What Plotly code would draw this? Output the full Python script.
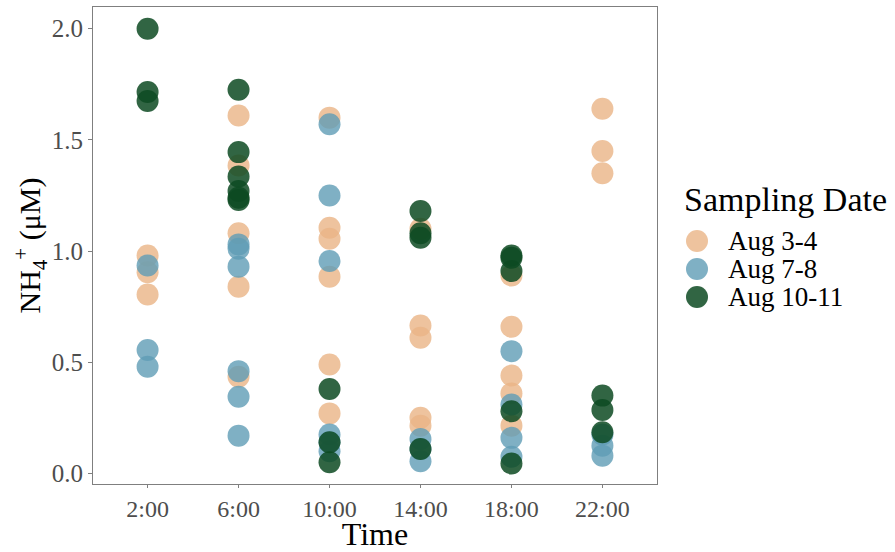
import plotly.graph_objects as go

times = ["2:00", "6:00", "10:00", "14:00", "18:00", "22:00"]

# Aug 3-4
aug34_time = ["2:00", "2:00", "2:00",
              "6:00", "6:00", "6:00", "6:00", "6:00",
              "10:00", "10:00", "10:00", "10:00", "10:00", "10:00",
              "14:00", "14:00", "14:00", "14:00", "14:00",
              "18:00", "18:00", "18:00", "18:00", "18:00",
              "22:00", "22:00", "22:00"]
aug34_val = [0.98, 0.905, 0.805,
             1.61, 1.385, 1.08, 0.84, 0.435,
             1.60, 1.105, 1.055, 0.885, 0.49, 0.27,
             1.10, 0.665, 0.61, 0.25, 0.215,
             0.89, 0.66, 0.44, 0.36, 0.215,
             1.64, 1.45, 1.35]

# Aug 7-8
aug78_time = ["2:00", "2:00", "2:00",
              "6:00", "6:00", "6:00", "6:00", "6:00", "6:00",
              "10:00", "10:00", "10:00", "10:00", "10:00", "10:00",
              "14:00", "14:00", "14:00",
              "18:00", "18:00", "18:00", "18:00",
              "22:00", "22:00", "22:00"]
aug78_val = [0.935, 0.555, 0.48,
             1.03, 1.01, 0.93, 0.46, 0.345, 0.17,
             1.57, 1.25, 0.955, 0.175, 0.14, 0.10,
             0.155, 0.11, 0.055,
             0.55, 0.31, 0.16, 0.075,
             0.175, 0.125, 0.08]

# Aug 10-11
aug1011_time = ["2:00", "2:00", "2:00",
                "6:00", "6:00", "6:00", "6:00", "6:00", "6:00",
                "10:00", "10:00", "10:00",
                "14:00", "14:00", "14:00", "14:00",
                "18:00", "18:00", "18:00", "18:00", "18:00",
                "22:00", "22:00", "22:00"]
aug1011_val = [2.00, 1.715, 1.675,
               1.725, 1.445, 1.335, 1.27, 1.24, 1.23,
               0.38, 0.14, 0.05,
               1.18, 1.08, 1.06, 0.11,
               0.98, 0.97, 0.91, 0.28, 0.045,
               0.35, 0.285, 0.185]

series_names = ["Aug 3-4", "Aug 7-8", "Aug 10-11"]
series_times = [aug34_time, aug78_time, aug1011_time]
series_vals = [aug34_val, aug78_val, aug1011_val]
series_colors = ["#EAB486", "#5F9CB5", "#0D4A22"]
series_opacity = [0.8, 0.8, 0.85]
legend_title = "Sampling Date"

serif = "Liberation Serif, Times New Roman, serif"

fig = go.Figure()
for name, t, v, col, op in zip(series_names, series_times, series_vals,
                               series_colors, series_opacity):
    fig.add_trace(go.Scatter(
        x=t, y=v, mode="markers", name=name, showlegend=False,
        marker=dict(size=22, color=col, opacity=op, line=dict(width=0)),
    ))

# Manual legend (matches ggplot spacing)
W, H = 895, 552
L, R, T, B = 93, 238, 7, 68
pw, ph = W - L - R, H - T - B

def px_x(x):
    return (x - L) / pw

def px_y(y):
    return (H - B - y) / ph

annotations = [dict(
    text=legend_title, xref="paper", yref="paper",
    x=px_x(682), y=px_y(200), xanchor="left", yanchor="middle",
    showarrow=False, font=dict(size=34, family=serif, color="black"),
)]
shapes = []
row_y = [241, 269, 297]
for name, col, op, yy in zip(series_names, series_colors, series_opacity, row_y):
    shapes.append(dict(
        type="circle", xref="paper", yref="paper",
        x0=px_x(686), x1=px_x(708), y0=px_y(yy + 11), y1=px_y(yy - 11),
        fillcolor=col, opacity=op, line=dict(width=0),
    ))
    annotations.append(dict(
        text=name, xref="paper", yref="paper",
        x=px_x(726), y=px_y(yy), xanchor="left", yanchor="middle",
        showarrow=False, font=dict(size=27, family=serif, color="black"),
    ))

fig.update_layout(
    width=W, height=H,
    margin=dict(l=L, r=R, t=T, b=B),
    paper_bgcolor="white", plot_bgcolor="white",
    font=dict(family=serif, color="black"),
    showlegend=False,
    annotations=annotations,
    shapes=shapes,
)
fig.update_xaxes(
    type="category", categoryorder="array", categoryarray=times,
    range=[-0.6, 5.6],
    showgrid=False, zeroline=False,
    showline=True, linecolor="#7f7f7f", linewidth=1, mirror=True,
    ticks="outside", ticklen=3, tickcolor="#7f7f7f",
    tickfont=dict(size=24, family=serif, color="#4d4d4d"),
    title=dict(text="Time", font=dict(size=32, family=serif, color="black"), standoff=0),
)
fig.update_yaxes(
    range=[-0.0475, 2.0975],
    tickvals=[0, 0.5, 1.0, 1.5, 2.0],
    ticktext=["0.0", "0.5", "1.0", "1.5", "2.0"],
    showgrid=False, zeroline=False,
    showline=True, linecolor="#7f7f7f", linewidth=1, mirror=True,
    ticks="outside", ticklen=4, tickcolor="#7f7f7f",
    tickfont=dict(size=25, family=serif, color="#4d4d4d"),
    title=dict(text="NH<sub>4</sub><sup>+</sup> (μM)", font=dict(size=30, family=serif, color="black"), standoff=0),
)

fig.write_html("out.html")
